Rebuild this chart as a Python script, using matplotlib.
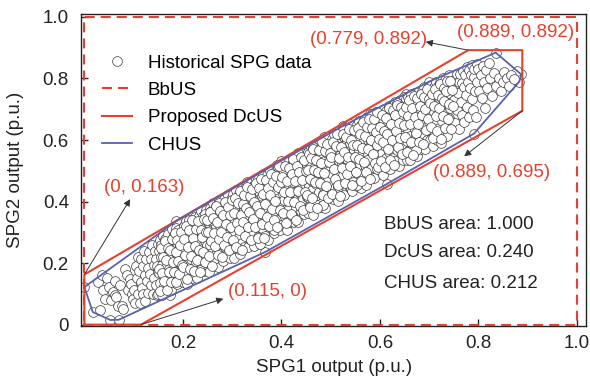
import numpy as np
import matplotlib.pyplot as plt

plt.rcParams['font.family'] = ['Liberation Sans', 'DejaVu Sans']
plt.rcParams['font.size'] = 13.5

red = '#e8402f'
blue = '#5862ad'

# Historical SPG outputs, in 1/1000 p.u., grouped by SPG1 range.
spg1_edge = [0, 17, 31, 53, 70, 174, 367, 615, 791, 883, 887, 879, 835, 700, 652, 524, 486, 400, 186]
spg2_edge = [122, 41, 46, 15, 16, 95, 236, 458, 621, 790, 813, 823, 884, 790, 750, 645, 610, 533, 336]

spg1_00 = [27, 35, 38, 41, 45, 51, 55, 58, 62, 62, 65, 68, 72, 76, 78, 82, 86, 89, 92, 95, 97, 99]
spg2_00 = [138, 160, 113, 84, 150, 122, 79, 106, 95, 143, 90, 62, 128, 62, 52, 180, 160, 111, 149, 132, 100, 84]

spg1_10 = [101, 103, 104, 106, 108, 109, 111, 112, 114, 115, 117, 118, 120, 121, 123, 124, 126, 127,
           129, 130, 132, 133, 135, 136, 138, 139, 141, 142, 144, 145, 146, 147, 148, 149, 150]
spg2_10 = [113, 70, 189, 153, 100, 219, 175, 71, 139, 213, 120, 189, 100, 239, 162, 76, 214, 142,
           185, 103, 236, 164, 130, 213, 260, 101, 193, 151, 239, 130, 214, 189, 96, 261, 170]

spg1_15 = [150, 151, 152, 153, 154, 155, 156, 157, 158, 159, 160, 161, 162, 163, 164, 165, 166, 167,
           168, 169, 170, 171, 172, 173, 174, 175, 176, 177, 178, 179, 180, 181, 182, 183, 184, 185,
           186, 187, 188, 189, 190, 191, 193, 195, 197]
spg2_15 = [98, 239, 169, 274, 134, 219, 259, 96, 193, 289, 162, 240, 125, 215, 279, 156, 260, 195,
           120, 240, 296, 182, 230, 147, 273, 215, 111, 261, 311, 185, 247, 140, 291, 205, 170, 275,
           233, 314, 131, 264, 221, 309, 163, 255, 293]

spg1_20 = [200, 201, 202, 203, 204, 205, 206, 207, 208, 209, 210, 211, 212, 213, 214, 215, 216, 217,
           218, 219, 220, 221, 222, 223, 224, 225, 226, 227, 228, 229, 230, 231, 232, 233, 234, 235,
           236, 237, 238, 239, 240, 241, 242, 243, 244, 245, 246, 247, 248, 249, 204, 214, 224, 234, 244]
spg2_20 = [245, 139, 320, 210, 287, 175, 337, 266, 133, 231, 311, 199, 282, 340, 166, 251, 308, 214,
           332, 153, 271, 236, 308, 184, 349, 289, 205, 257, 335, 151, 307, 235, 352, 178, 275, 331,
           227, 370, 294, 195, 259, 352, 310, 173, 272, 334, 220, 371, 258, 310, 169, 313, 272, 176, 360]

spg1_25 = [250, 251, 252, 253, 254, 255, 256, 257, 258, 259, 260, 261, 262, 263, 264, 265, 266, 267,
           268, 269, 270, 271, 272, 273, 274, 275, 276, 277, 278, 279, 280, 281, 282, 283, 284, 285,
           286, 287, 288, 289, 290, 291, 292, 293, 294, 295, 296, 297, 298, 299, 254, 264, 274, 284, 294]
spg2_25 = [232, 348, 292, 172, 380, 318, 258, 208, 368, 334, 233, 294, 396, 195, 352, 279, 226, 386,
           321, 262, 372, 187, 341, 298, 404, 218, 322, 368, 263, 395, 288, 208, 362, 320, 407, 251,
           344, 286, 393, 227, 362, 309, 420, 248, 388, 324, 217, 409, 348, 276, 339, 212, 395, 296, 258]

spg1_30 = [300, 301, 302, 303, 304, 305, 306, 307, 308, 309, 310, 311, 312, 313, 314, 315, 316, 317,
           318, 319, 320, 321, 322, 323, 324, 325, 326, 327, 328, 329, 330, 331, 332, 333, 334, 335,
           336, 337, 338, 339, 340, 341, 342, 343, 344, 345, 346, 347, 348, 349, 304, 314, 324, 334, 344]
spg2_30 = [366, 290, 426, 217, 342, 404, 264, 322, 439, 363, 246, 394, 316, 426, 285, 385, 228, 344,
           424, 366, 266, 449, 317, 413, 345, 252, 443, 388, 292, 338, 465, 409, 313, 253, 377, 436,
           368, 278, 460, 424, 338, 295, 450, 400, 357, 255, 440, 383, 474, 325, 378, 247, 374, 444, 330]

spg1_35 = [350, 351, 352, 353, 354, 355, 356, 357, 358, 359, 360, 361, 362, 363, 364, 365, 366, 367,
           368, 369, 370, 371, 372, 373, 374, 375, 376, 377, 378, 379, 380, 381, 382, 383, 384, 385,
           386, 387, 388, 389, 390, 391, 392, 393, 394, 395, 396, 397, 398, 399, 354, 364, 374, 384, 394]
spg2_35 = [362, 439, 285, 472, 395, 332, 429, 262, 462, 389, 419, 313, 489, 355, 445, 385, 287, 463,
           416, 334, 485, 374, 438, 274, 460, 412, 361, 499, 317, 434, 472, 339, 407, 492, 298, 455,
           394, 360, 488, 433, 319, 520, 454, 389, 477, 342, 413, 509, 308, 450, 449, 326, 401, 309, 512]

spg1_40 = [400, 401, 402, 403, 404, 405, 406, 407, 408, 409, 410, 411, 412, 413, 414, 415, 416, 417,
           418, 419, 420, 421, 422, 423, 424, 425, 426, 427, 428, 429, 430, 431, 432, 433, 434, 435,
           436, 437, 438, 439, 440, 441, 442, 443, 444, 445, 446, 447, 448, 449, 404, 414, 424, 434, 444]
spg2_40 = [369, 455, 512, 326, 423, 491, 404, 530, 350, 449, 507, 308, 477, 420, 374, 531, 447, 333,
           496, 468, 404, 523, 356, 446, 545, 485, 332, 428, 517, 379, 465, 544, 407, 504, 333, 450,
           530, 481, 429, 557, 368, 499, 469, 400, 549, 525, 358, 458, 515, 429, 504, 354, 462, 558, 409]

spg1_45 = [450, 451, 452, 453, 454, 455, 456, 457, 458, 459, 460, 461, 462, 463, 464, 465, 466, 467,
           468, 469, 470, 471, 472, 473, 474, 475, 476, 477, 478, 479, 480, 481, 482, 483, 484, 485,
           486, 487, 488, 489, 490, 491, 492, 493, 494, 495, 496, 497, 498, 499, 454, 464, 474, 484, 494]
spg2_45 = [526, 414, 470, 562, 362, 505, 450, 551, 491, 389, 577, 523, 438, 468, 549, 357, 508, 568,
           417, 493, 539, 457, 585, 390, 530, 485, 566, 432, 598, 515, 381, 555, 453, 497, 590, 423,
           533, 569, 485, 378, 589, 520, 436, 558, 609, 476, 499, 585, 421, 551, 414, 576, 495, 389, 572]

spg1_50 = [500, 501, 502, 503, 504, 505, 506, 507, 508, 509, 510, 511, 512, 513, 514, 515, 516, 517,
           518, 519, 520, 521, 522, 523, 524, 525, 526, 527, 528, 529, 530, 531, 532, 533, 534, 535,
           536, 537, 538, 539, 540, 541, 542, 543, 544, 545, 546, 547, 548, 549, 504, 514, 524, 534, 544]
spg2_50 = [452, 540, 603, 490, 571, 409, 528, 619, 563, 445, 518, 598, 482, 559, 401, 619, 532, 462,
           591, 550, 433, 616, 521, 582, 638, 485, 552, 421, 609, 572, 511, 639, 534, 459, 598, 626,
           527, 572, 480, 652, 590, 441, 554, 621, 509, 644, 465, 567, 609, 545, 589, 446, 631, 538, 434]

spg1_55 = [550, 551, 552, 553, 554, 555, 556, 557, 558, 559, 560, 561, 562, 563, 564, 565, 566, 567,
           568, 569, 570, 571, 572, 573, 574, 575, 576, 577, 578, 579, 580, 581, 582, 583, 584, 585,
           586, 587, 588, 589, 590, 591, 592, 593, 594, 595, 596, 597, 598, 599, 554, 564, 574, 584, 594]
spg2_55 = [608, 526, 646, 449, 584, 632, 495, 568, 661, 521, 605, 444, 648, 582, 556, 633, 484, 664,
           604, 518, 572, 652, 453, 625, 674, 555, 601, 484, 650, 684, 536, 595, 643, 513, 674, 580,
           626, 477, 671, 610, 558, 690, 641, 507, 600, 670, 538, 625, 690, 584, 454, 628, 534, 686, 604]

spg1_60 = [600, 601, 602, 603, 604, 605, 606, 607, 608, 609, 610, 611, 612, 613, 614, 615, 616, 617,
           618, 619, 620, 621, 622, 623, 624, 625, 626, 627, 628, 629, 630, 631, 632, 633, 634, 635,
           636, 637, 638, 639, 640, 641, 642, 643, 644, 645, 646, 647, 648, 649, 604, 614, 624, 634, 644]
spg2_60 = [588, 672, 512, 637, 692, 558, 615, 485, 665, 702, 582, 651, 542, 693, 630, 510, 679, 614,
           709, 560, 647, 505, 696, 667, 588, 711, 542, 632, 680, 609, 725, 533, 663, 701, 569, 647,
           719, 594, 514, 698, 660, 730, 565, 681, 637, 721, 536, 695, 740, 595, 670, 526, 627, 719, 614]

spg1_65 = [650, 651, 652, 653, 654, 655, 656, 657, 658, 659, 660, 661, 662, 663, 664, 665, 666, 667,
           668, 669, 670, 671, 672, 673, 674, 675, 676, 677, 678, 679, 680, 681, 682, 683, 684, 685,
           686, 687, 688, 689, 690, 691, 692, 693, 694, 695, 696, 697, 698, 699, 654, 664, 674, 684, 694]
spg2_65 = [691, 585, 732, 658, 536, 713, 632, 741, 566, 678, 726, 614, 535, 696, 739, 657, 587, 717,
           680, 566, 753, 636, 698, 743, 614, 547, 721, 662, 757, 591, 689, 743, 631, 719, 572, 758,
           684, 741, 618, 711, 772, 651, 571, 740, 695, 763, 600, 727, 678, 776, 597, 749, 566, 698, 754]

spg1_70 = [700, 701, 702, 703, 704, 705, 706, 707, 708, 709, 710, 711, 712, 713, 714, 715, 716, 717,
           718, 719, 720, 721, 722, 723, 724, 725, 726, 727, 728, 729, 730, 731, 732, 733, 734, 735,
           736, 737, 738, 739, 740, 741, 742, 743, 744]
spg2_70 = [660, 753, 601, 721, 774, 633, 709, 579, 752, 692, 773, 622, 741, 658, 788, 712, 600, 754,
           776, 689, 640, 732, 789, 591, 748, 663, 774, 718, 800, 622, 763, 686, 738, 794, 640, 775,
           714, 613, 793, 754, 672, 810, 704, 770, 659]

spg1_75 = [750, 751, 753, 754, 756, 757, 759, 760, 761, 763, 764, 766, 767, 769, 770, 771, 773, 774,
           776, 777, 779, 780, 781, 783, 784, 786, 787, 789, 790, 791, 793, 794, 796, 797, 799]
spg2_75 = [730, 796, 655, 766, 814, 697, 754, 790, 636, 813, 724, 786, 682, 824, 772, 659, 811, 746,
           836, 707, 788, 827, 676, 768, 810, 734, 844, 699, 805, 831, 758, 676, 848, 789, 832]

spg1_80 = [802, 805, 807, 809, 811, 813, 816, 818, 821, 824, 828, 832, 836, 841, 846, 849, 852, 858,
           862, 866, 872]
spg2_80 = [760, 812, 735, 842, 790, 705, 826, 768, 850, 800, 742, 818, 776, 802, 758, 790, 820, 800,
           775, 812, 797]

# second layer of the dense core of the cloud
spg1_core15 = [151, 153, 155, 157, 159, 161, 163, 165, 167, 169, 171, 173, 175, 177, 179, 181, 183,
               185, 187, 189, 191, 193, 195, 197, 199]
spg2_core15 = [181, 108, 250, 167, 219, 141, 273, 210, 112, 249, 171, 243, 140, 277, 204, 171, 298,
               235, 137, 274, 206, 163, 260, 302, 194]
spg1_core20 = [201, 203, 205, 207, 209, 211, 213, 215, 217, 219, 221, 223, 225, 227, 229, 231, 233,
               235, 237, 239, 241, 243, 245, 247, 249]
spg2_core20 = [186, 278, 225, 322, 149, 251, 308, 180, 222, 339, 281, 173, 255, 312, 209, 336, 243,
               170, 307, 284, 236, 343, 205, 302, 339]
spg1_core25 = [251, 253, 255, 257, 259, 261, 263, 265, 267, 269, 271, 273, 275, 277, 279, 281, 283,
               285, 287, 289, 291, 293, 295, 297, 299]
spg2_core25 = [301, 223, 365, 272, 189, 346, 298, 255, 387, 334, 226, 278, 370, 302, 219, 356, 258,
               400, 327, 284, 381, 243, 355, 317, 404]
spg1_core30 = [301, 303, 305, 307, 309, 311, 313, 315, 317, 319, 321, 323, 325, 327, 329, 331, 333,
               335, 337, 339, 341, 343, 345, 347, 349]
spg2_core30 = [276, 363, 410, 252, 329, 396, 308, 435, 357, 244, 391, 333, 420, 287, 379, 446, 318,
               365, 417, 274, 441, 343, 400, 317, 459]
spg1_core35 = [351, 353, 355, 357, 359, 361, 363, 365, 367, 369, 371, 373, 375, 377, 379, 381, 383,
               385, 387, 389, 391, 393, 395, 397, 399]
spg2_core35 = [386, 283, 445, 362, 474, 326, 423, 280, 392, 469, 351, 443, 320, 422, 489, 376, 463,
               340, 402, 484, 316, 448, 515, 372, 464]
spg1_core40 = [401, 403, 405, 407, 409, 411, 413, 415, 417, 419, 421, 423, 425, 427, 429, 431, 433,
               435, 437, 439, 441, 443, 445, 447, 449]
spg2_core40 = [481, 363, 430, 517, 329, 466, 403, 510, 432, 359, 491, 538, 400, 467, 339, 516, 433,
               495, 387, 544, 471, 373, 535, 432, 499]
spg1_core45 = [451, 453, 455, 457, 459, 461, 463, 465, 467, 469, 471, 473, 475, 477, 479, 481, 483,
               485, 487, 489, 491, 493, 495, 497, 499]
spg2_core45 = [421, 503, 555, 382, 474, 541, 413, 570, 502, 464, 536, 378, 495, 567, 459, 526, 593,
               420, 492, 564, 451, 588, 410, 527, 559]
spg1_core50 = [501, 503, 505, 507, 509, 511, 513, 515, 517, 519, 521, 523, 525, 527, 529, 531, 533,
               535, 537, 539, 541, 543, 545, 547, 549]
spg2_core50 = [546, 423, 595, 507, 474, 581, 618, 455, 542, 419, 576, 508, 620, 562, 459, 611, 488,
               545, 637, 514, 601, 453, 585, 632, 544]
spg1_core55 = [551, 553, 555, 557, 559, 561, 563, 565, 567, 569, 571, 573, 575, 577, 579, 581, 583,
               585, 587, 589, 591, 593, 595, 597, 599]
spg2_core55 = [496, 583, 640, 537, 619, 466, 573, 660, 527, 614, 496, 643, 570, 667, 474, 601, 638,
               555, 667, 524, 626, 583, 690, 512, 604]
spg1_core60 = [601, 603, 605, 607, 609, 611, 613, 615, 617, 619, 621, 623, 625, 627, 629, 631, 633,
               635, 637, 639, 641, 643, 645, 647, 649]
spg2_core60 = [641, 533, 680, 592, 629, 511, 673, 620, 572, 704, 536, 653, 600, 697, 519, 681, 628,
               715, 577, 654, 606, 708, 555, 692, 649]
spg1_core65 = [651, 653, 655, 657, 659, 661, 663, 665, 667, 669, 671, 673, 675, 677, 679, 681, 683,
               685, 687, 689, 691, 693, 695, 697, 699]
spg2_core65 = [611, 708, 560, 677, 729, 651, 593, 705, 552, 744, 676, 623, 735, 652, 594, 711, 748,
               680, 587, 739, 701, 633, 765, 667, 734]
spg1_core70 = [701, 703, 705, 707, 709, 711, 713, 715, 717, 719, 721, 723, 725, 727, 729, 731, 733,
               735, 737, 739, 741, 743, 745, 747, 749]
spg2_core70 = [721, 643, 750, 607, 709, 766, 678, 630, 747, 704, 781, 603, 735, 677, 769, 726, 638,
               760, 792, 669, 716, 793, 635, 762, 709]

spg1 = np.concatenate([spg1_edge, spg1_00, spg1_10, spg1_15, spg1_20, spg1_25, spg1_30, spg1_35,
                       spg1_40, spg1_45, spg1_50, spg1_55, spg1_60, spg1_65, spg1_70, spg1_75,
                       spg1_80, spg1_core15, spg1_core20, spg1_core25, spg1_core30, spg1_core35,
                       spg1_core40, spg1_core45, spg1_core50, spg1_core55, spg1_core60,
                       spg1_core65, spg1_core70]) / 1000.0
spg2 = np.concatenate([spg2_edge, spg2_00, spg2_10, spg2_15, spg2_20, spg2_25, spg2_30, spg2_35,
                       spg2_40, spg2_45, spg2_50, spg2_55, spg2_60, spg2_65, spg2_70, spg2_75,
                       spg2_80, spg2_core15, spg2_core20, spg2_core25, spg2_core30, spg2_core35,
                       spg2_core40, spg2_core45, spg2_core50, spg2_core55, spg2_core60,
                       spg2_core65, spg2_core70]) / 1000.0

# box-based and data-driven uncertainty sets
bbus_x = [0, 1, 1, 0, 0]
bbus_y = [0, 0, 1, 1, 0]
dcus_x = [0, 0, 0.779, 0.889, 0.889, 0.115, 0]
dcus_y = [0, 0.163, 0.892, 0.892, 0.695, 0, 0]

area_names = ['BbUS', 'DcUS', 'CHUS']
area_values = [1.000, 0.240, 0.212]


def convex_hull(px, py):
    pts = sorted(set(zip(px, py)))

    def half(seq):
        h = []
        for p in seq:
            while len(h) >= 2 and ((h[-1][0] - h[-2][0]) * (p[1] - h[-2][1])
                                   - (h[-1][1] - h[-2][1]) * (p[0] - h[-2][0])) <= 0:
                h.pop()
            h.append(p)
        return h

    ring = half(pts)[:-1] + half(pts[::-1])[:-1]
    ring.append(ring[0])
    return [p[0] for p in ring], [p[1] for p in ring]


chus_x, chus_y = convex_hull(spg1, spg2)

fig = plt.figure(figsize=(5.9, 3.85), dpi=100)
ax = fig.add_axes([0.138, 0.152, 0.855, 0.812])

ax.plot(spg1, spg2, 'o', ls='none', ms=7, mfc='white', mec='#3a3a3a', mew=0.5,
        zorder=1, label='Historical SPG data')
ax.plot(bbus_x, bbus_y, color=red, lw=1.5, dashes=(4.8, 2.9), zorder=3, label='BbUS')
ax.plot(dcus_x, dcus_y, color=red, lw=1.5, zorder=2, label='Proposed DcUS')
ax.plot(chus_x, chus_y, color=blue, lw=1.3, zorder=2, label='CHUS')

arrow = dict(arrowstyle='-|>', color='#333333', lw=0.7, mutation_scale=10, shrinkA=0, shrinkB=0)


def vertex_label(i):
    return '(%g, %g)' % (dcus_x[i], dcus_y[i])


# (vertex index, text centre, arrow head or None)
notes = [(1, (0.121, 0.447), (0.093, 0.408)),
         (2, (0.576, 0.926), (0.693, 0.919)),
         (3, (0.875, 0.948), None),
         (4, (0.827, 0.495), (0.771, 0.547)),
         (5, (0.371, 0.107), (0.282, 0.084))]
for i, txt, head in notes:
    if head is not None:
        ax.annotate('', xy=head, xytext=(dcus_x[i], dcus_y[i]), arrowprops=arrow, zorder=4)
    ax.text(txt[0], txt[1], vertex_label(i), color=red, ha='center', va='center', zorder=5)

for name, val, yy in zip(area_names, area_values, [0.327, 0.236, 0.133]):
    ax.text(0.608, yy, '%s area: %.3f' % (name, val), ha='left', va='center', color='#222222')

ax.set_xlim(-0.006, 1.018)
ax.set_ylim(-0.006, 1.01)
ax.set_xticks([0.2, 0.4, 0.6, 0.8, 1.0])
ax.set_xticklabels(['0.2', '0.4', '0.6', '0.8', '1.0'])
ax.set_yticks([0, 0.2, 0.4, 0.6, 0.8, 1.0])
ax.set_yticklabels(['0', '0.2', '0.4', '0.6', '0.8', '1.0'])
ax.tick_params(axis='x', direction='in', length=5, width=1, pad=6, labelsize=13.5, colors='#222222')
ax.tick_params(axis='y', direction='in', length=5, width=1, pad=9, labelsize=13.5, colors='#222222')
for s in ax.spines.values():
    s.set_linewidth(1.0)
    s.set_color('#222222')

ax.set_xlabel('SPG1 output (p.u.)', fontsize=13.5, color='#222222')
ax.set_ylabel('SPG2 output (p.u.)', fontsize=13.5, color='#222222')
ax.xaxis.set_label_coords(0.5, -0.105)
ax.yaxis.set_label_coords(-0.114, 0.5)

ax.legend(loc='upper left', bbox_to_anchor=(0.026, 0.894), borderaxespad=0, frameon=False,
          fontsize=13.5, handlelength=1.6, handletextpad=0.85, labelspacing=0.55)

fig.savefig('out.png', dpi=100)
